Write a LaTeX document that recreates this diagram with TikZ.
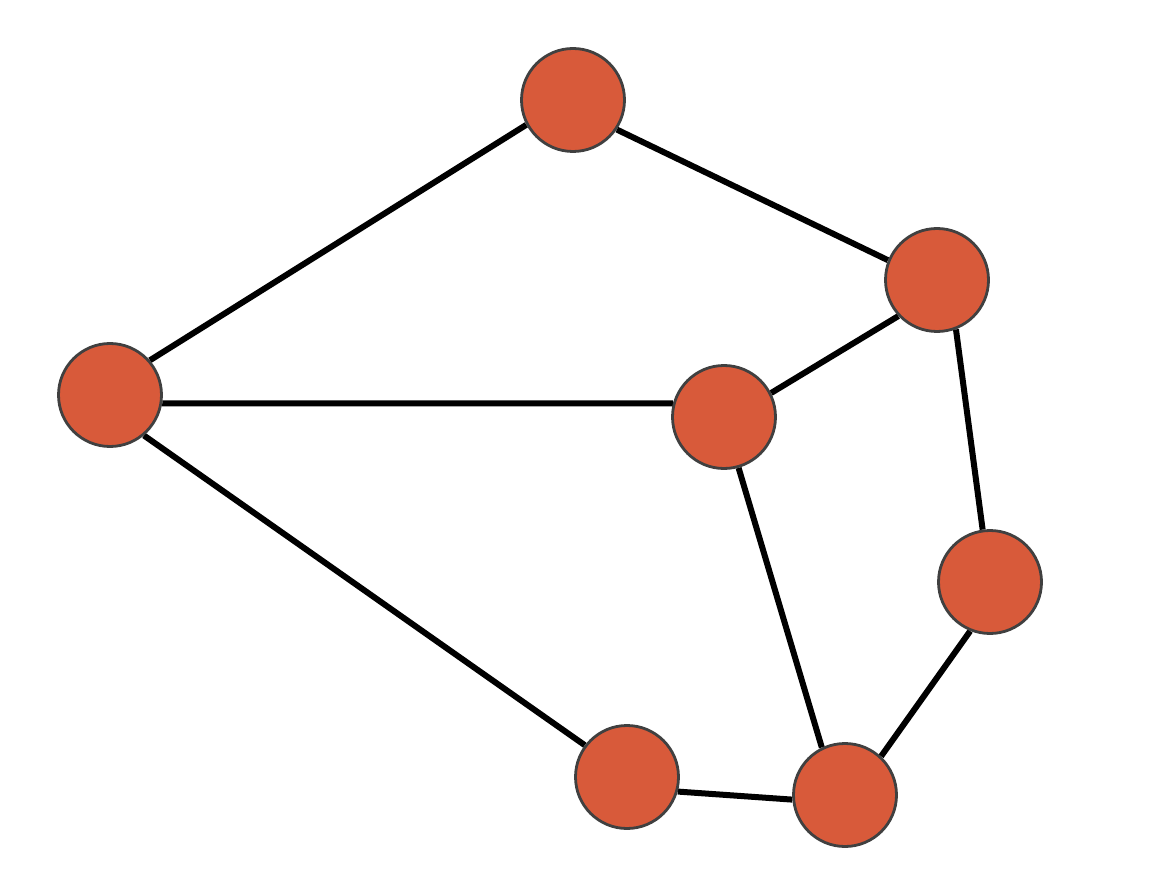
\documentclass[tikz,border=0pt]{standalone}
\usetikzlibrary{backgrounds}
\definecolor{nodefill}{HTML}{D85A3A}
\definecolor{nodeedge}{HTML}{404040}
\tikzset{
  vertex/.style={circle, fill=nodefill, draw=nodeedge, line width=2.8pt, minimum size=103pt, inner sep=0pt},
  edge/.style={line width=6pt, black}
}
\begin{document}
\begin{tikzpicture}[x=1pt,y=-1pt]
\path[use as bounding box] (0,0) rectangle (1156,890);
\node[vertex] (A) at (573,100) {};
\node[vertex] (B) at (937,280) {};
\node[vertex] (C) at (110,395) {};
\node[vertex] (D) at (724,417) {};
\node[vertex] (E) at (990,582) {};
\node[vertex] (F) at (627,777) {};
\node[vertex] (G) at (845,795) {};
\begin{scope}[on background layer]
\draw[edge] (A.208) -- (C.41);
\draw[edge] (A.-34) -- (B.158);
\draw[edge] (B.223) -- (D.27);
\draw[edge] (B.-69) -- (E.98);
\draw[edge] (C.-9) -- (D.165);
\draw[edge] (C.-50) -- (F.143);
\draw[edge] (D.-74) -- (G.116);
\draw[edge] (E.248) -- (G.47);
\draw[edge] (F.-16) -- (G.185);
\end{scope}
\end{tikzpicture}
\end{document}
